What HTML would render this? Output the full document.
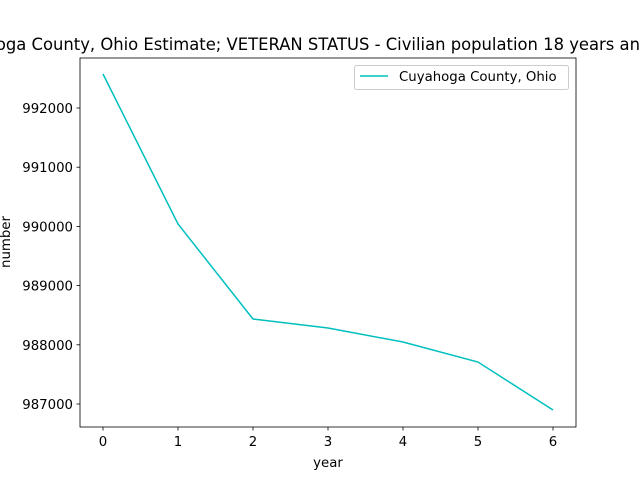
<!DOCTYPE html>
<html><head><meta charset="utf-8"><style>
body{margin:0;background:#fff;}
svg{display:block;font-family:"DejaVu Sans","Liberation Sans",sans-serif;}
</style></head><body>
<svg id="chart" width="640" height="480">
<rect width="640" height="480" fill="#fff"/>
<text x="318" y="50" font-size="16.4" text-anchor="middle">Cuyahoga County, Ohio Estimate; VETERAN STATUS - Civilian population 18 years and over</text>
<g id="axes"></g>
</svg>
<script>
const years=[0,1,2,3,4,5,6];
const values=[992574,990041,988436,988284,988047,987709,986899];
const xTicks=[0,1,2,3,4,5,6];
const yTicks=[987000,988000,989000,990000,991000,992000];
const L=80,R=576,T=58,B=427;
function xs(v){return 103+(v-0)*75;}
function ys(v){return 108+(992000-v)*0.0592;}
const NS="http://www.w3.org/2000/svg";
const g=document.getElementById('axes');
function mk(t,a,p){const e=document.createElementNS(NS,t);for(const k in a)e.setAttribute(k,a[k]);(p||g).appendChild(e);return e;}
xTicks.forEach(t=>{
 const l=mk('line',{x1:xs(t),x2:xs(t),y1:B,y2:B+3.5,stroke:'#000','stroke-width':0.8});
 
 
 const tx=mk('text',{x:xs(t),y:B+19,'font-size':13.3,'text-anchor':'middle'});tx.textContent=t;
 
 
});
yTicks.forEach(t=>{
 const l=mk('line',{x1:L-3.5,x2:L,y1:ys(t),y2:ys(t),stroke:'#000','stroke-width':0.8});
 
 
 const tx=mk('text',{x:L-7,y:ys(t)+5,'font-size':13.3,'text-anchor':'end'});tx.textContent=t;
 
 
});
const pl=mk('polyline',{points:years.map((y,i)=>xs(y)+','+ys(values[i])).join(' '),fill:'none',stroke:'#00bfbf','stroke-width':1.5});


const fr=mk('rect',{x:L,y:T,width:R-L,height:B-T,fill:'none',stroke:'#000','stroke-width':0.8});


const xl=mk('text',{x:(L+R)/2,y:467,'font-size':13.3,'text-anchor':'middle'});xl.textContent='year';


const yl=mk('text',{x:0,y:0,'font-size':13.3,'text-anchor':'middle',transform:'translate(10,242) rotate(-90)'});yl.textContent='number';


const lg=mk('g',{});


mk('rect',{x:354.5,y:65.5,width:214,height:24,rx:2,fill:'#fff',stroke:'#ccc'},lg);
const ll=mk('line',{x1:360,x2:388,y1:76,y2:76,stroke:'#00bfbf','stroke-width':1.5},lg);


const lt=mk('text',{x:399,y:81,'font-size':13.3},lg);lt.textContent='Cuyahoga County, Ohio';


</script>
</body></html>
